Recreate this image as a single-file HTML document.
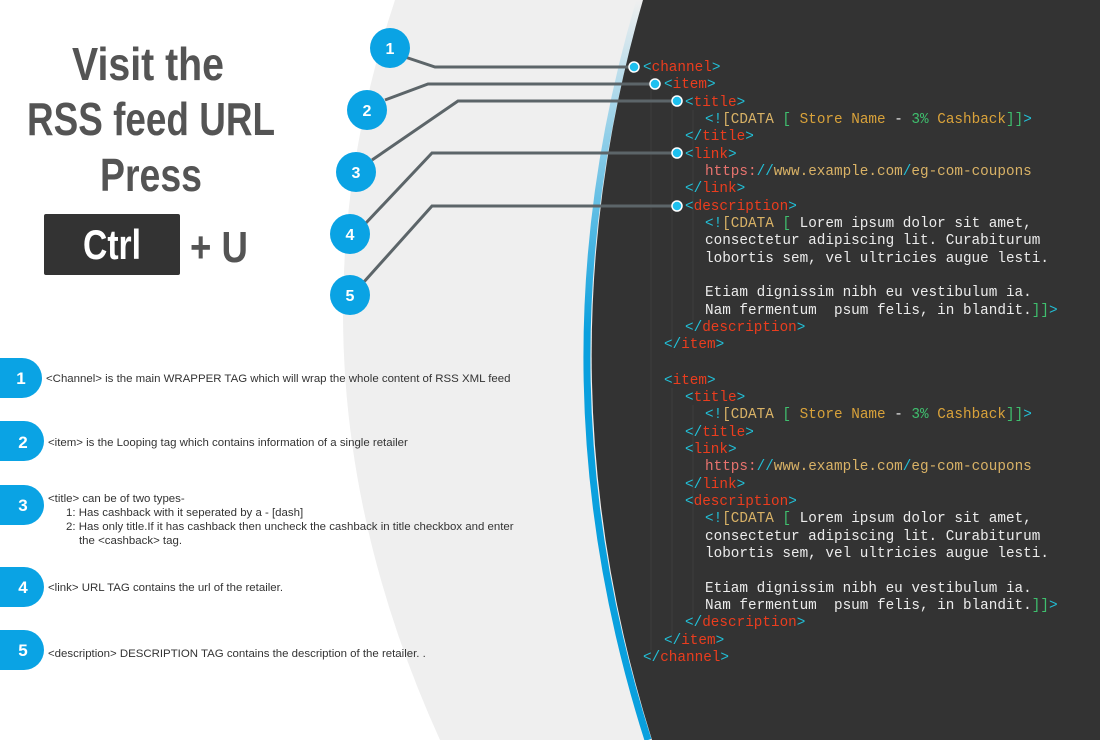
<!DOCTYPE html>
<html><head><meta charset="utf-8"><style>
html,body{margin:0;padding:0;width:1100px;height:740px;overflow:hidden;background:#fff}
svg{display:block}
.c{font-family:"Liberation Mono",monospace;font-size:14.33px;fill:#ececec}
.b{fill:#22bfd6}.t{fill:#ea3d1e}.y{fill:#d9b266}.g{fill:#3fbf6e}.o{fill:#d9a23a}.p{fill:#e8736e}
.h{font-family:"Liberation Sans Narrow","Liberation Sans",sans-serif;font-weight:bold;fill:#545454}
.d{font-family:"Liberation Sans",sans-serif;font-size:11.45px;fill:#333}
.n{font-family:"Liberation Sans Narrow","Liberation Sans",sans-serif;font-weight:bold;fill:#fff;text-anchor:middle}
</style></head><body>
<svg width="1100" height="740" viewBox="0 0 1100 740" xmlns="http://www.w3.org/2000/svg">
<defs><linearGradient id="bl" x1="0" y1="0" x2="0" y2="1"><stop offset="0" stop-color="#0aa0de" stop-opacity="0"/><stop offset="0.45" stop-color="#0aa0de" stop-opacity="1"/><stop offset="1" stop-color="#0aa0de"/></linearGradient></defs>
<rect width="1100" height="740" fill="#fff"/>
<path d="M395,0 Q272,370 440,740 L1100,740 L1100,0 Z" fill="#efefef"/>
<path d="M640,0 Q530,370 648,740" fill="none" stroke="url(#bl)" stroke-width="7"/>
<path d="M643,0 Q536,370 652,740 L1100,740 L1100,0 Z" fill="#333333"/>
<g stroke="#3c3c3c" stroke-width="1">
<line x1="651" y1="75" x2="651" y2="650"/><line x1="672" y1="92" x2="672" y2="340"/><line x1="693" y1="110" x2="693" y2="320"/>
<line x1="672" y1="388" x2="672" y2="635"/><line x1="693" y1="405" x2="693" y2="615"/>
</g>

<text class="h" x="148" y="80" font-size="46" text-anchor="middle" textLength="152" lengthAdjust="spacingAndGlyphs">Visit the</text>
<text class="h" x="151" y="135" font-size="46" text-anchor="middle" textLength="248" lengthAdjust="spacingAndGlyphs">RSS feed URL</text>
<text class="h" x="151" y="191" font-size="46" text-anchor="middle" textLength="102" lengthAdjust="spacingAndGlyphs">Press</text>
<rect x="44" y="214" width="136" height="61" rx="2" fill="#333"/>
<text class="h" x="112" y="259" font-size="42" text-anchor="middle" style="fill:#fff" textLength="58" lengthAdjust="spacingAndGlyphs">Ctrl</text>
<text class="h" x="219" y="262" font-size="44" text-anchor="middle" textLength="58" lengthAdjust="spacingAndGlyphs">+ U</text>

<g fill="none" stroke="#5c6569" stroke-width="3">
<polyline points="405,57 435,67 634,67"/>
<polyline points="385,100 428,84 655,84"/>
<polyline points="372,160 458,101 677,101"/>
<polyline points="365,224 432,153 677,153"/>
<polyline points="363,283 432,206 677,206"/>
</g>
<g fill="#0aa3e4">
<circle cx="390" cy="48" r="20"/><circle cx="367" cy="110" r="20"/><circle cx="356" cy="172" r="20"/><circle cx="350" cy="234" r="20"/><circle cx="350" cy="295" r="20"/>
</g>
<g font-size="16"><text class="n" x="390" y="54">1</text><text class="n" x="367" y="116">2</text><text class="n" x="356" y="178">3</text><text class="n" x="350" y="240">4</text><text class="n" x="350" y="301">5</text></g>
<g fill="#1ec0ef" stroke="#fff" stroke-width="1.5">
<circle cx="634" cy="67" r="5"/><circle cx="655" cy="84" r="5"/><circle cx="677" cy="101" r="5"/><circle cx="677" cy="153" r="5"/><circle cx="677" cy="206" r="5"/>
</g>

<g fill="#0aa3e4">
<path d="M0,358 H22 A20,20 0 0 1 22,398 H0 Z"/>
<path d="M0,421 H24 A20,20 0 0 1 24,461 H0 Z"/>
<path d="M0,485 H24 A20,20 0 0 1 24,525 H0 Z"/>
<path d="M0,567 H24 A20,20 0 0 1 24,607 H0 Z"/>
<path d="M0,630 H24 A20,20 0 0 1 24,670 H0 Z"/>
</g>
<g font-size="17"><text class="n" x="21" y="384">1</text><text class="n" x="23" y="448">2</text><text class="n" x="23" y="511">3</text><text class="n" x="23" y="593">4</text><text class="n" x="23" y="656">5</text></g>
<text class="d" x="46" y="382">&lt;Channel&gt; is the main WRAPPER TAG which will wrap the whole content of RSS XML feed</text>
<text class="d" x="48" y="446">&lt;item&gt; is the Looping tag which contains information of a single retailer</text>
<text class="d" x="48" y="502">&lt;title&gt; can be of two types-</text>
<text class="d" x="66" y="516">1: Has cashback with it seperated by a - [dash]</text>
<text class="d" x="66" y="530">2: Has only title.If it has cashback then uncheck the cashback in title checkbox and enter</text>
<text class="d" x="79" y="544">the &lt;cashback&gt; tag.</text>
<text class="d" x="48" y="591">&lt;link&gt; URL TAG contains the url of the retailer.</text>
<text class="d" x="48" y="657">&lt;description&gt; DESCRIPTION TAG contains the description of the retailer. .</text>

<g class="c">
<text x="643" y="71"><tspan class="b">&lt;</tspan><tspan class="t">channel</tspan><tspan class="b">&gt;</tspan></text>
<text x="664" y="88"><tspan class="b">&lt;</tspan><tspan class="t">item</tspan><tspan class="b">&gt;</tspan></text>
<text x="685" y="106"><tspan class="b">&lt;</tspan><tspan class="t">title</tspan><tspan class="b">&gt;</tspan></text>
<text x="705" y="123" xml:space="preserve"><tspan class="b">&lt;!</tspan><tspan class="y">[CDATA</tspan> <tspan class="g">[</tspan> <tspan class="o">Store Name</tspan> - <tspan class="g">3%</tspan> <tspan class="o">Cashback</tspan><tspan class="g">]]</tspan><tspan class="b">&gt;</tspan></text>
<text x="685" y="140"><tspan class="b">&lt;/</tspan><tspan class="t">title</tspan><tspan class="b">&gt;</tspan></text>
<text x="685" y="158"><tspan class="b">&lt;</tspan><tspan class="t">link</tspan><tspan class="b">&gt;</tspan></text>
<text x="705" y="175"><tspan class="p">https:</tspan><tspan class="b">//</tspan><tspan class="y">www.example.com</tspan><tspan class="b">/</tspan><tspan class="y">eg-com-coupons</tspan></text>
<text x="685" y="192"><tspan class="b">&lt;/</tspan><tspan class="t">link</tspan><tspan class="b">&gt;</tspan></text>
<text x="685" y="210"><tspan class="b">&lt;</tspan><tspan class="t">description</tspan><tspan class="b">&gt;</tspan></text>
<text x="705" y="227" xml:space="preserve"><tspan class="b">&lt;!</tspan><tspan class="y">[CDATA</tspan> <tspan class="g">[</tspan> Lorem ipsum dolor sit amet,</text>
<text x="705" y="244">consectetur adipiscing lit. Curabiturum</text>
<text x="705" y="262">lobortis sem, vel ultricies augue lesti.</text>
<text x="705" y="296">Etiam dignissim nibh eu vestibulum ia.</text>
<text x="705" y="314" xml:space="preserve">Nam fermentum  psum felis, in blandit.<tspan class="g">]]</tspan><tspan class="b">&gt;</tspan></text>
<text x="685" y="331"><tspan class="b">&lt;/</tspan><tspan class="t">description</tspan><tspan class="b">&gt;</tspan></text>
<text x="664" y="348"><tspan class="b">&lt;/</tspan><tspan class="t">item</tspan><tspan class="b">&gt;</tspan></text>

<text x="664" y="384"><tspan class="b">&lt;</tspan><tspan class="t">item</tspan><tspan class="b">&gt;</tspan></text>
<text x="685" y="401"><tspan class="b">&lt;</tspan><tspan class="t">title</tspan><tspan class="b">&gt;</tspan></text>
<text x="705" y="418" xml:space="preserve"><tspan class="b">&lt;!</tspan><tspan class="y">[CDATA</tspan> <tspan class="g">[</tspan> <tspan class="o">Store Name</tspan> - <tspan class="g">3%</tspan> <tspan class="o">Cashback</tspan><tspan class="g">]]</tspan><tspan class="b">&gt;</tspan></text>
<text x="685" y="436"><tspan class="b">&lt;/</tspan><tspan class="t">title</tspan><tspan class="b">&gt;</tspan></text>
<text x="685" y="453"><tspan class="b">&lt;</tspan><tspan class="t">link</tspan><tspan class="b">&gt;</tspan></text>
<text x="705" y="470"><tspan class="p">https:</tspan><tspan class="b">//</tspan><tspan class="y">www.example.com</tspan><tspan class="b">/</tspan><tspan class="y">eg-com-coupons</tspan></text>
<text x="685" y="488"><tspan class="b">&lt;/</tspan><tspan class="t">link</tspan><tspan class="b">&gt;</tspan></text>
<text x="685" y="505"><tspan class="b">&lt;</tspan><tspan class="t">description</tspan><tspan class="b">&gt;</tspan></text>
<text x="705" y="522" xml:space="preserve"><tspan class="b">&lt;!</tspan><tspan class="y">[CDATA</tspan> <tspan class="g">[</tspan> Lorem ipsum dolor sit amet,</text>
<text x="705" y="540">consectetur adipiscing lit. Curabiturum</text>
<text x="705" y="557">lobortis sem, vel ultricies augue lesti.</text>
<text x="705" y="592">Etiam dignissim nibh eu vestibulum ia.</text>
<text x="705" y="609" xml:space="preserve">Nam fermentum  psum felis, in blandit.<tspan class="g">]]</tspan><tspan class="b">&gt;</tspan></text>
<text x="685" y="626"><tspan class="b">&lt;/</tspan><tspan class="t">description</tspan><tspan class="b">&gt;</tspan></text>
<text x="664" y="644"><tspan class="b">&lt;/</tspan><tspan class="t">item</tspan><tspan class="b">&gt;</tspan></text>
<text x="643" y="661"><tspan class="b">&lt;/</tspan><tspan class="t">channel</tspan><tspan class="b">&gt;</tspan></text>
</g>
</svg>
</body></html>
